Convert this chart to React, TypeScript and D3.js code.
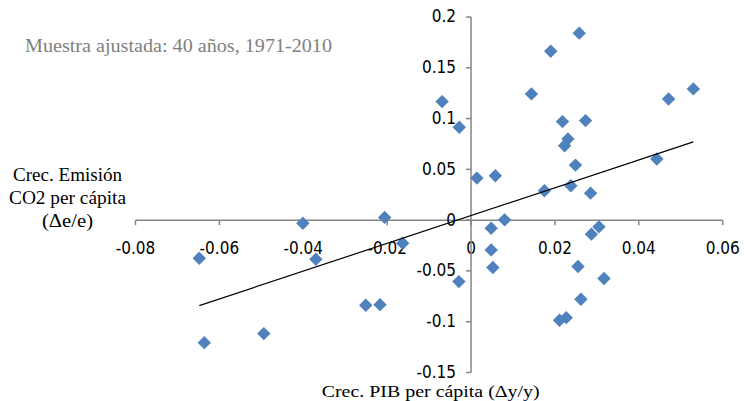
import React, { useEffect, useRef } from "react";
import * as d3 from "d3";

// Crecimiento PIB per cápita (x) y crecimiento de emisiones CO2 per cápita (y)
const gdpGrowth = [
  -0.0648, -0.0636, -0.0494, -0.0401, -0.037, -0.0206, -0.0163, -0.0251, -0.0217, -0.0029,
  -0.0069, -0.0028, 0.0014, 0.0058, 0.0144, 0.019, 0.0258, 0.0218, 0.0273, 0.0231,
  0.0223, 0.0249, 0.0175, 0.0238, 0.0285, 0.0443, 0.0471, 0.053, 0.0048, 0.0048,
  0.0052, 0.008, 0.0287, 0.0305, 0.0255, 0.0317, 0.0262, 0.0211, 0.0227,
];
const co2Growth = [
  -0.0375, -0.1206, -0.1117, -0.003, -0.0385, 0.0027, -0.0227, -0.0838, -0.0832, -0.0605,
  0.1167, 0.0914, 0.0414, 0.0437, 0.1243, 0.1663, 0.1841, 0.097, 0.098, 0.0799,
  0.0733, 0.0542, 0.0289, 0.0338, 0.0266, 0.0602, 0.1193, 0.1292, -0.0079, -0.0293,
  -0.0467, 0.0003, -0.0138, -0.0066, -0.0457, -0.0575, -0.0779, -0.0986, -0.096,
];

const xTicks = [-0.08, -0.06, -0.04, -0.02, 0, 0.02, 0.04, 0.06];
const yTicks = [-0.15, -0.1, -0.05, 0, 0.05, 0.1, 0.15, 0.2];

const note = "Muestra ajustada: 40 años, 1971-2010";
const yLabel = ["Crec. Emisión", "CO2 per cápita", "(Δe/e)"];
const xLabel = "Crec. PIB per cápita (Δy/y)";

const width = 744;
const height = 401;
const serif = "'Liberation Serif', 'DejaVu Serif', serif";
const sans = "'Liberation Sans Narrow', 'DejaVu Sans Condensed', 'Liberation Sans', sans-serif";

export default function App() {
  const ref = useRef<SVGSVGElement>(null);

  useEffect(() => {
    const svg = d3.select(ref.current);
    svg.selectAll("*").remove();

    const x = d3.scaleLinear().domain([-0.08, 0.06]).range([135.5, 722.7]);
    const y = d3.scaleLinear().domain([-0.15, 0.2]).range([372.5, 17]);
    const axisColor = "#868686";

    // Eje X (cruza en y = 0)
    const gx = svg.append("g").attr("transform", `translate(0,${y(0)})`);
    gx.append("line")
      .attr("x1", x(-0.08))
      .attr("x2", x(0.06))
      .attr("stroke", axisColor)
      .attr("stroke-width", 1.5);
    xTicks.forEach((t) => {
      gx.append("line")
        .attr("x1", x(t))
        .attr("x2", x(t))
        .attr("y1", 0)
        .attr("y2", 5)
        .attr("stroke", axisColor)
        .attr("stroke-width", 1.5);
      gx.append("text")
        .attr("x", x(t))
        .attr("y", 34)
        .attr("text-anchor", "middle")
        .style("font-family", sans)
        .style("font-size", "17px")
        .attr("fill", "#000")
        .text(String(t));
    });

    // Eje Y (cruza en x = 0)
    const gy = svg.append("g").attr("transform", `translate(${x(0)},0)`);
    gy.append("line")
      .attr("y1", y(-0.15))
      .attr("y2", y(0.2))
      .attr("stroke", axisColor)
      .attr("stroke-width", 1.5);
    yTicks.forEach((t) => {
      gy.append("line")
        .attr("x1", -5)
        .attr("x2", 0)
        .attr("y1", y(t))
        .attr("y2", y(t))
        .attr("stroke", axisColor)
        .attr("stroke-width", 1.5);
      gy.append("text")
        .attr("x", -15)
        .attr("y", y(t))
        .attr("dy", "0.32em")
        .attr("text-anchor", "end")
        .style("font-family", sans)
        .style("font-size", "17px")
        .attr("fill", "#000")
        .text(String(t));
    });

    // Puntos
    const points = gdpGrowth.map((g, i) => ({ g, e: co2Growth[i] }));
    const diamond = d3.symbol().type(d3.symbolSquare).size(90);
    svg
      .append("g")
      .selectAll("path")
      .data(points)
      .join("path")
      .attr("d", diamond)
      .attr("transform", (d) => `translate(${x(d.g)},${y(d.e)}) rotate(45)`)
      .attr("fill", "#4f81bd");

    // Línea de tendencia (mínimos cuadrados)
    const mx = d3.mean(gdpGrowth) as number;
    const my = d3.mean(co2Growth) as number;
    const sxy = d3.sum(points, (d) => (d.g - mx) * (d.e - my));
    const sxx = d3.sum(points, (d) => (d.g - mx) ** 2);
    const slope = sxy / sxx;
    const intercept = my - slope * mx;
    const [x0, x1] = d3.extent(gdpGrowth) as [number, number];
    svg
      .append("path")
      .datum([x0, x1])
      .attr(
        "d",
        d3
          .line<number>()
          .x((d) => x(d))
          .y((d) => y(intercept + slope * d))
      )
      .attr("stroke", "#000")
      .attr("stroke-width", 1.2)
      .attr("fill", "none");

    // Textos
    svg
      .append("text")
      .attr("x", 25)
      .attr("y", 51.5)
      .attr("textLength", 307)
      .attr("lengthAdjust", "spacingAndGlyphs")
      .style("font-family", serif)
      .style("font-size", "19px")
      .attr("fill", "#808080")
      .text(note);

    const yWidths = [109, 117, 51];
    yLabel.forEach((line, i) => {
      svg
        .append("text")
        .attr("x", 67.5 - yWidths[i] / 2)
        .attr("y", 180.5 + i * 23.3)
        .attr("textLength", yWidths[i])
        .attr("lengthAdjust", "spacingAndGlyphs")
        .style("font-family", serif)
        .style("font-size", "18.5px")
        .attr("fill", "#000")
        .text(line);
    });

    svg
      .append("text")
      .attr("x", 321.7)
      .attr("y", 396.5)
      .attr("textLength", 218)
      .attr("lengthAdjust", "spacingAndGlyphs")
      .style("font-family", serif)
      .style("font-size", "16.5px")
      .attr("fill", "#000")
      .text(xLabel);
  }, []);

  return (
    <svg
      ref={ref}
      width={width}
      height={height}
      style={{ position: "absolute", left: 0, top: 0, background: "#fff" }}
    />
  );
}
